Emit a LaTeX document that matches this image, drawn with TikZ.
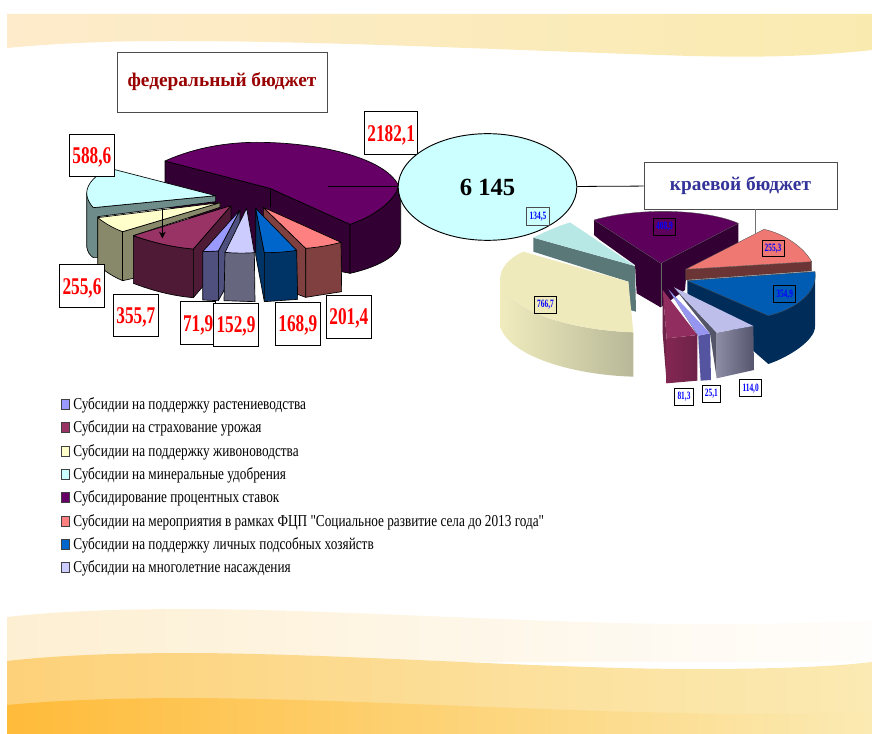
\documentclass[tikz,border=0pt]{standalone}
\usepackage{fontspec}
\usetikzlibrary{arrows.meta,shapes.geometric}
\setmainfont{Liberation Serif}
\newfontfamily\condb[FakeStretch=0.72]{Liberation Serif Bold}
\newfontfamily\condsm[FakeStretch=0.66]{Liberation Serif Bold}
\newfontfamily\condr[FakeStretch=0.795]{Liberation Serif}
\definecolor{purp}{HTML}{660066}
\definecolor{purpd}{HTML}{330033}
\definecolor{lgA}{HTML}{9999FF}
\definecolor{lgB}{HTML}{993366}
\definecolor{lgC}{HTML}{FFFFCC}
\definecolor{lgD}{HTML}{CCFFFF}
\definecolor{lgE}{HTML}{660066}
\definecolor{lgF}{HTML}{FF8080}
\definecolor{lgG}{HTML}{0066CC}
\definecolor{lgH}{HTML}{CCCCFF}
\definecolor{topL}{HTML}{FDEBCB}
\definecolor{topM}{HTML}{FCEDCB}
\definecolor{topR}{HTML}{F9EBB0}
\definecolor{paleL}{HTML}{FDEFD2}
\definecolor{paleR}{HTML}{FFFDFB}
\definecolor{midL}{HTML}{FDD179}
\definecolor{midR}{HTML}{FBEAB3}
\definecolor{lowL}{HTML}{FFBB3A}
\definecolor{lowM}{HTML}{FDD183}
\definecolor{lowR}{HTML}{FBEAB2}
\tikzset{
 edge/.style={draw=black,line width=.5pt,line join=round},
 soft/.style={draw=black!70,line width=.25pt,line join=round},
 bigval/.style={draw=black,fill=white,line width=.5pt,inner sep=0pt,text=red,text depth=0pt,font=\condb\fontsize{18}{18}\selectfont,anchor=center},
 smallval/.style={draw=black,line width=.6pt,inner sep=0pt,text=blue,font=\condsm\fontsize{8.4}{9}\selectfont,anchor=center},
 legbox/.style={draw=black!75,line width=.5pt,minimum width=6pt,minimum height=7.5pt,inner sep=0pt},
 legtext/.style={anchor=west,inner sep=0pt,font=\condr\fontsize{12.5}{13}\selectfont},
 title/.style={draw=black!70,fill=white,line width=.7pt,inner sep=0pt,font=\bfseries},
}
\begin{document}
\begin{tikzpicture}[x=.75pt,y=-.75pt]
\useasboundingbox (0,0) rectangle (872,734);
% background bands
\shade[left color=topL,middle color=topM,right color=topR]
 (7,14) -- (872,14) -- (872,50) .. controls (800,58) and (740,57) .. (690,56) .. controls (500,50) and (330,41) .. (170,41) .. controls (100,41) and (50,44) .. (7,48) -- cycle;
\shade[left color=paleL,right color=paleR]
 (7,617) .. controls (60,611) and (120,609) .. (194,609) .. controls (350,610) and (550,624) .. (694,624) .. controls (770,624) and (830,623) .. (872,620) -- (872,662) -- (7,662) -- cycle;
\shade[left color=midL,right color=midR]
 (7,661) .. controls (60,655) and (120,653) .. (194,653) .. controls (350,654) and (550,669) .. (694,669) .. controls (770,669) and (830,667) .. (872,662) -- (872,734) -- (7,734) -- cycle;
\shade[left color=lowL,middle color=lowM,right color=lowR]
 (7,705) .. controls (60,700) and (120,698) .. (194,698) .. controls (350,699) and (550,712) .. (740,714) .. controls (790,714) and (840,713) .. (872,712) -- (872,734) -- (7,734) -- cycle;

% ---- left pie (coordinates of a 3x crop at 50,90)
\begin{scope}[shift={(50,90)},x=.25pt,y=-.25pt]
% purple
\filldraw[edge,fill=purpd] (345,213) -- (660,295) -- (900,403) -- (900,550) -- (640,500) -- (345,345) -- cycle;
\filldraw[edge,fill=purpd] (1045,285) .. controls (1040,330) and (970,380) .. (900,403) -- (900,550) .. controls (970,535) and (1050,500) .. (1052,455) -- (1052,320) -- cycle;
\draw[edge] (660,295) -- (660,350);
\filldraw[edge,fill=purp] (345,213) .. controls (440,170) and (540,157) .. (620,157) .. controls (800,157) and (1000,200) .. (1045,285) .. controls (1040,330) and (970,380) .. (900,403) -- (660,295) -- cycle;
% cyan
\filldraw[edge,fill={rgb,255:red,110;green,140;blue,138}] (110,310) -- (110,470) .. controls (112,485) and (120,497) .. (130,503) -- (143,503) -- (143,380) -- (497,335) -- (497,317) -- (130,353) -- cycle;
\filldraw[edge,fill=lgD] (497,317) -- (183,236) .. controls (140,250) and (110,280) .. (110,310) .. controls (110,325) and (120,343) .. (130,353) -- cycle;
% yellow
\filldraw[edge,fill={rgb,255:red,136;green,136;blue,106}] (143,383) -- (143,523) .. controls (165,545) and (190,560) .. (218,572) -- (250,565) -- (250,437) -- (510,352) -- (510,338) -- (218,425) -- cycle;
\draw[edge] (218,425) -- (218,572);
\filldraw[edge,fill=lgC] (510,338) -- (143,383) .. controls (165,400) and (190,415) .. (218,425) -- cycle;
% maroon
\filldraw[edge,fill={rgb,255:red,79;green,26;blue,53}] (430,477) -- (543,347) -- (543,490) -- (430,623) -- cycle;
\filldraw[edge,fill={rgb,255:red,79;green,26;blue,53}] (250,437) -- (250,580) .. controls (310,603) and (370,618) .. (430,623) -- (430,477) .. controls (370,472) and (310,458) .. (250,437) -- cycle;
\filldraw[edge,fill=lgB] (543,347) -- (250,437) .. controls (310,458) and (370,472) .. (430,477) -- cycle;
% periwinkle
\filldraw[edge,fill={rgb,255:red,80;green,80;blue,127}] (505,483) -- (570,360) -- (570,495) -- (520,605) -- (505,632) -- cycle;
\filldraw[edge,fill={rgb,255:red,80;green,80;blue,127}] (458,485) -- (458,630) -- (505,632) -- (505,483) -- cycle;
\filldraw[edge,fill=lgA] (570,360) -- (458,485) -- (505,483) -- cycle;
% lavender
\filldraw[edge,fill={rgb,255:red,102;green,102;blue,127}] (525,487) -- (522,632) -- (615,635) -- (613,488) -- cycle;
\filldraw[edge,fill=lgH] (590,355) -- (525,487) .. controls (555,490) and (585,490) .. (613,488) -- cycle;
% salmon
\filldraw[edge,fill={rgb,255:red,128;green,64;blue,64}] (640,352) -- (767,475) -- (767,622) -- (740,612) -- (655,480) -- (640,420) -- cycle;
\filldraw[edge,fill={rgb,255:red,128;green,64;blue,64}] (767,475) -- (767,622) -- (875,605) -- (873,457) -- cycle;
\filldraw[edge,fill=lgF] (640,352) -- (767,475) .. controls (805,472) and (840,466) .. (873,457) -- cycle;
% blue
\filldraw[edge,fill={rgb,255:red,0;green,51;blue,102}] (617,355) -- (643,488) -- (643,635) -- (617,495) -- cycle;
\filldraw[edge,fill={rgb,255:red,0;green,51;blue,102}] (643,488) -- (643,635) -- (743,628) -- (740,481) -- cycle;
\filldraw[edge,fill=lgG] (617,355) -- (643,488) .. controls (675,488) and (710,486) .. (740,481) -- cycle;
% leaders
\coordinate (arrowfrom) at (337,357);
\coordinate (arrowto) at (337,445);
\coordinate (pl) at (835,288);
\draw[-{Stealth[length=5pt,width=5pt]},black,line width=.5pt] (arrowfrom) -- (arrowto);
% value boxes
\node[bigval,minimum width=33.75pt,minimum height=32pt] (v5886) at (125.5,196) {588,6};
\node[bigval,minimum width=33.75pt,minimum height=32pt] (v2556) at (96,588.5) {255,6};
\node[bigval,minimum width=33.75pt,minimum height=32pt] (v3557) at (257.5,676.5) {355,7};
\node[bigval,minimum width=26.25pt,minimum height=32pt] (v719) at (444.5,699.5) {71,9};
\node[bigval,minimum width=33.75pt,minimum height=32pt] (v1529) at (558,704.5) {152,9};
\node[bigval,minimum width=33.75pt,minimum height=32pt] (v1689) at (743.5,702) {168,9};
\node[bigval,minimum width=33.75pt,minimum height=32pt] (v2014) at (896.5,681) {201,4};
\node[bigval,minimum width=39.75pt,minimum height=32pt] (v2182) at (1023.5,129.5) {2182,1};
\end{scope}

% ---- right pie (coordinates of a 3x crop at 490,170)
\begin{scope}[shift={(490,170)},x=.25pt,y=-.25pt]
% purple walls
\fill[purpd] (312,150) -- (512,280) -- (745,160) -- (745,225) -- (590,300) -- (585,360) -- (512,412) -- (440,370) -- (435,285) -- (330,210) -- (312,195) -- cycle;
\draw[black!60,line width=.25pt] (512,280) -- (512,412);
\filldraw[soft,fill={rgb,255:red,92;green,0;blue,92}] (512,280) -- (312,150) .. controls (400,125) and (500,122) .. (560,125) .. controls (630,128) and (700,140) .. (745,160) -- cycle;
% salmon
\filldraw[soft,fill={rgb,255:red,107;green,53;blue,53}] (587,298) -- (965,275) -- (965,303) -- (587,330) -- cycle;
\filldraw[soft,fill={rgb,255:red,240;green,120;blue,115}] (587,298) -- (822,178) .. controls (880,190) and (940,230) .. (965,275) -- cycle;
% blue
\fill[fill={rgb,255:red,0;green,44;blue,90}] (592,332) -- (592,370) -- (835,582) .. controls (900,560) and (975,510) .. (975,470) -- (975,305) -- cycle;
\filldraw[soft,fill={rgb,255:red,0;green,92;blue,178}] (592,332) -- (975,305) .. controls (985,370) and (910,420) .. (835,437) -- cycle;
% maroon
\fill[fill={rgb,255:red,110;green,35;blue,72}] (518,360) -- (530,505) -- (530,640) -- (518,490) -- cycle;
\shade[left color={rgb,255:red,130;green,38;blue,82},right color={rgb,255:red,110;green,35;blue,72}] (530,505) -- (530,640) -- (622,632) -- (622,495) -- cycle;
\fill[fill={rgb,255:red,145;green,45;blue,95}] (518,360) -- (622,495) -- (530,505) -- cycle;
% periwinkle
\fill[fill={rgb,255:red,70;green,70;blue,120}] (535,358) -- (625,497) -- (632,632) -- (625,500) -- cycle;
\fill[fill={rgb,255:red,84;green,84;blue,160}] (625,497) -- (632,632) -- (663,630) -- (660,490) -- cycle;
\fill[fill={rgb,255:red,150;green,150;blue,240}] (535,358) -- (660,490) -- (625,497) -- cycle;
% lavender
\fill[fill={rgb,255:red,85;green,85;blue,105}] (552,352) -- (680,488) -- (680,625) -- (660,490) -- cycle;
\shade[left color={rgb,255:red,140;green,140;blue,165},right color={rgb,255:red,85;green,85;blue,110}] (680,488) -- (680,625) -- (792,600) -- (790,468) -- cycle;
\fill[fill={rgb,255:red,190;green,190;blue,235}] (552,352) -- (790,468) -- (680,488) -- cycle;
% cyan
\fill[fill={rgb,255:red,90;green,120;blue,120}] (130,203) -- (435,288) -- (438,425) -- (420,420) -- (415,335) -- (130,245) -- cycle;
\fill[fill={rgb,255:red,184;green,232;blue,230}] (435,288) -- (240,157) .. controls (200,170) and (165,185) .. (130,203) -- cycle;
% yellow
\shade[left color={rgb,255:red,240;green,236;blue,190},right color={rgb,255:red,184;green,184;blue,152}] (30,330) -- (30,470) .. controls (60,560) and (250,615) .. (430,620) -- (430,487) .. controls (250,480) and (60,430) .. (30,330) -- cycle;
\fill[fill={rgb,255:red,238;green,234;blue,188}] (415,335) -- (100,245) .. controls (55,265) and (30,295) .. (30,330) .. controls (60,430) and (250,480) .. (430,487) -- cycle;
\end{scope}

% title boxes and the central ellipse
\node[title,text=black,draw=black,fill=lgD,shape=ellipse,minimum width=134pt,minimum height=80pt,font=\bfseries\fontsize{18.5}{19}\selectfont] (total) at (487.5,187) {6 145};
\node[title,text={rgb,255:red,153;green,0;blue,0},minimum width=157.5pt,minimum height=45pt,font=\bfseries\fontsize{14.5}{16}\selectfont] (fed) at (222,82) {федеральный бюджет};
\node[title,text={rgb,255:red,51;green,51;blue,153},minimum width=144.75pt,minimum height=35.25pt,font=\bfseries\fontsize{14.5}{16}\selectfont] (kray) at (740.5,185.5) {краевой бюджет};
\draw[black,line width=.6pt] (total) -- (kray);
\draw[black,line width=.6pt] (pl) -- (pl -| total.west);
\coordinate (kp) at (755,234);
\draw[black!55,line width=.7pt] (kray.south -| kp) -- (kp);

\begin{scope}[shift={(490,170)},x=.25pt,y=-.25pt]
\node[smallval,draw=black!70,minimum width=17pt,minimum height=13pt] (r1345) at (144,139) {134,5};
\node[smallval,minimum width=16.25pt,minimum height=12.5pt] (r4089) at (523.5,171) {408,9};
\node[smallval,minimum width=16.5pt,minimum height=12.5pt] (r2553) at (849,235) {255,3};
\node[smallval,minimum width=16.5pt,minimum height=12.75pt] (r3549) at (884,372.5) {354,9};
\node[smallval,minimum width=16.75pt,minimum height=13pt] (r7667) at (166.5,404) {766,7};
\node[smallval,minimum width=14pt,minimum height=13pt] (r813) at (582,681) {81,3};
\node[smallval,minimum width=13.5pt,minimum height=13pt] (r251) at (664,671) {25,1};
\node[smallval,minimum width=16.5pt,minimum height=12.75pt] (r1140) at (782,654.5) {114,0};
\end{scope}

% legend
\foreach \yy/\cc/\txt/\nn in {
 404/lgA/{Субсидии на поддержку растениеводства}/a,
 427.5/lgB/{Субсидии на страхование урожая}/b,
 451/lgC/{Субсидии на поддержку живоноводства}/c,
 474/lgD/{Субсидии на минеральные удобрения}/d,
 497.5/lgE/{Субсидирование процентных ставок}/e,
 521/lgF/{Субсидии на мероприятия в рамках ФЦП "Социальное развитие села до 2013 года"}/f,
 544/lgG/{Субсидии на поддержку личных подсобных хозяйств}/g,
 567.5/lgH/{Субсидии на многолетние насаждения}/h}
{
 \node[legbox,fill=\cc] (box\nn) at (65,\yy) {};
 \node[legtext] (leg\nn) at (73,\yy+1) {\txt};
}
\end{tikzpicture}
\end{document}
